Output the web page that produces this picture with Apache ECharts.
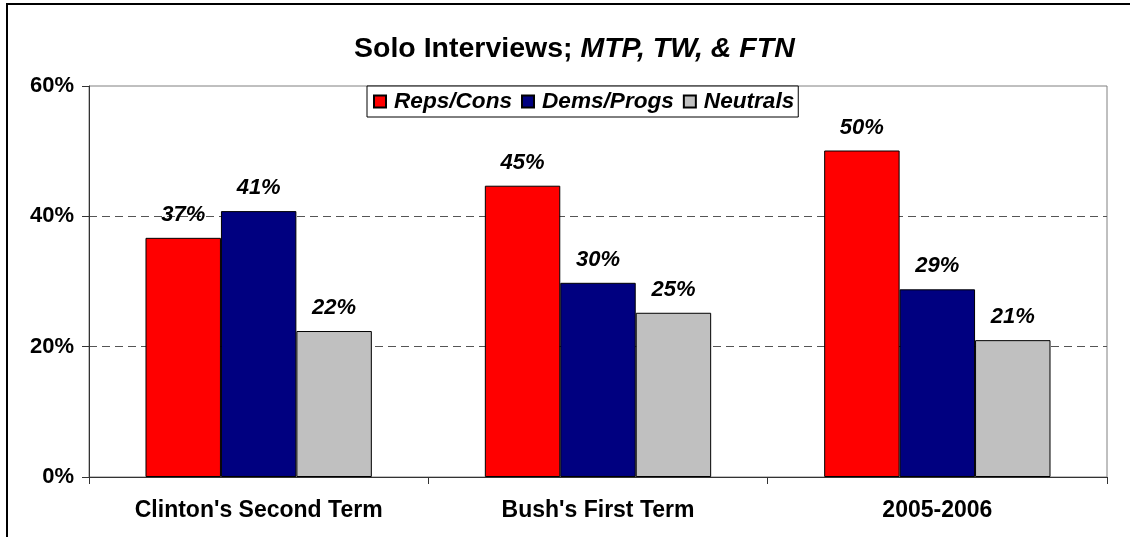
<!DOCTYPE html>
<html>
<head>
<meta charset="utf-8">
<script src="https://cdn.jsdelivr.net/npm/echarts@6/dist/echarts.min.js"></script>
<style>
html,body{margin:0;padding:0;background:#fff;}
#chart{width:1130px;height:537px;}
</style>
</head>
<body>
<div id="chart"></div>
<script>
const categories = ["Clinton's Second Term", "Bush's First Term", "2005-2006"];
const repsCons = [36.7, 44.7, 50.1];
const demsProgs = [40.8, 29.8, 28.8];
const neutrals = [22.4, 25.2, 21.0];
const seriesNames = ["Reps/Cons", "Dems/Progs", "Neutrals"];
const yTicks = [0, 20, 40, 60];

const FONT = '"Liberation Sans", Arial, sans-serif';
const chart = echarts.init(document.getElementById('chart'), null, {renderer: 'canvas'});

function mkSeries(name, data, color) {
  return {
    name: name,
    type: 'bar',
    data: data,
    barGap: '0%',
    barCategoryGap: '33.3%',
    itemStyle: {color: color, borderColor: '#000', borderWidth: 1},
    label: {
      show: true,
      position: 'top',
      distance: 12,
      formatter: p => Math.round(p.value) + '%',
      fontFamily: FONT,
      fontSize: 22,
      fontWeight: 'bold',
      fontStyle: 'italic',
      color: '#000'
    },
    emphasis: {disabled: true},
    animation: false
  };
}

chart.setOption({
  animation: false,
  backgroundColor: '#fff',
  title: {
    text: '{a|Solo Interviews; }{b|MTP, TW, & FTN}',
    left: 349,
    top: 30,
    textStyle: {
      rich: {
        a: {fontFamily: FONT, fontSize: 28.5, fontWeight: 'bold', color: '#000'},
        b: {fontFamily: FONT, fontSize: 28.5, fontWeight: 'bold', fontStyle: 'italic', color: '#000'}
      }
    }
  },
  graphic: [{
    type: 'rect',
    shape: {x: 7, y: 4, width: 1300, height: 700},
    style: {fill: 'none', stroke: '#000', lineWidth: 2},
    silent: true,
    z: 100
  }],
  legend: {
    data: seriesNames,
    left: 367,
    top: 86,
    orient: 'horizontal',
    backgroundColor: '#fff',
    borderColor: '#000',
    borderWidth: 1,
    padding: [4, 4, 4, 6],
    itemWidth: 12,
    itemHeight: 12,
    itemGap: 9,
    icon: 'rect',
    textStyle: {
      fontFamily: FONT,
      fontSize: 22.6,
      fontWeight: 'bold',
      fontStyle: 'italic',
      color: '#000',
      padding: [0, 0, 0, 3]
    },
    z: 10
  },
  grid: {
    left: 89, right: 23, top: 86, bottom: 60,
    show: true,
    borderColor: '#808080',
    borderWidth: 1,
    backgroundColor: 'transparent'
  },
  xAxis: {
    type: 'category',
    data: categories,
    axisLine: {lineStyle: {color: '#333', width: 1}},
    axisTick: {show: true, length: 7, lineStyle: {color: '#333'}},
    axisLabel: {
      fontFamily: FONT, fontSize: 23, fontWeight: 'bold', color: '#000', margin: 22
    }
  },
  yAxis: {
    type: 'value',
    min: 0, max: 60, interval: 20,
    axisLine: {show: true, lineStyle: {color: '#333', width: 1}},
    axisTick: {show: true, length: 7, lineStyle: {color: '#333'}},
    axisLabel: {
      formatter: v => yTicks.includes(v) ? v + '%' : '',
      fontFamily: FONT, fontSize: 22, fontWeight: 'bold', color: '#000', margin: 15
    },
    splitLine: {show: true, lineStyle: {color: ['#555', '#555', '#555', 'rgba(0,0,0,0)'], type: [8, 5], width: 1}}
  },
  series: [
    mkSeries(seriesNames[0], repsCons, '#ff0000'),
    mkSeries(seriesNames[1], demsProgs, '#000080'),
    mkSeries(seriesNames[2], neutrals, '#c0c0c0')
  ]
});
</script>
</body>
</html>
